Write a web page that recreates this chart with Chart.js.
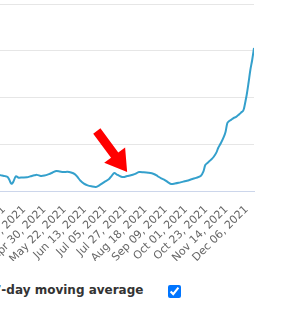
<!DOCTYPE html>
<html>
<head>
<meta charset="utf-8">
<script src="https://cdn.jsdelivr.net/npm/chart.js@4.4.1/dist/chart.umd.min.js"></script>
<style>
  body { margin: 0; width: 288px; height: 315px; overflow: hidden; background: #fff; position: relative; }
  #wrap { position: absolute; left: 0; top: 0; }
  #legendText { position: absolute; left: -7px; top: 282px; font: bold 12px "DejaVu Sans", sans-serif; color: #333; line-height: 16px; white-space: nowrap; }
  #legendBox { position: absolute; left: 168px; top: 285px; width: 13px; height: 13px; margin: 0; }
</style>
</head>
<body>
<div id="wrap"><canvas id="grafica" width="325" height="257"></canvas></div>
<span id="legendText">7-day moving average</span>
<input id="legendBox" type="checkbox" checked>
<script>
// daily new cases, 7-day moving average
const dates = [
  '2021-03-08', '2021-03-12', '2021-03-15', '2021-03-18', '2021-03-21', '2021-03-23', '2021-03-25', '2021-03-27',
  '2021-03-30', '2021-04-02', '2021-04-06', '2021-04-11', '2021-04-15', '2021-04-19', '2021-04-22', '2021-04-26',
  '2021-04-30', '2021-05-05', '2021-05-09', '2021-05-13', '2021-05-17', '2021-05-21', '2021-05-25', '2021-05-29',
  '2021-06-02', '2021-06-05', '2021-06-08', '2021-06-12', '2021-06-16', '2021-06-20', '2021-06-25', '2021-06-29',
  '2021-07-04', '2021-07-09', '2021-07-12', '2021-07-15', '2021-07-18', '2021-07-22', '2021-07-25', '2021-07-29',
  '2021-08-02', '2021-08-06', '2021-08-11', '2021-08-16', '2021-08-21', '2021-08-27', '2021-08-31', '2021-09-04',
  '2021-09-08', '2021-09-12', '2021-09-15', '2021-09-19', '2021-09-23', '2021-09-28', '2021-10-02', '2021-10-08',
  '2021-10-12', '2021-10-17', '2021-10-20', '2021-10-22', '2021-10-25', '2021-10-28', '2021-10-31', '2021-11-03',
  '2021-11-05', '2021-11-08', '2021-11-11', '2021-11-13', '2021-11-15', '2021-11-17', '2021-11-19', '2021-11-22',
  '2021-11-24', '2021-11-26', '2021-11-28', '2021-11-30', '2021-12-02', '2021-12-03', '2021-12-04', '2021-12-06',
  '2021-12-08', '2021-12-10', '2021-12-12', '2021-12-14'
]
const promedio = [
  330, 342, 330, 318, 300, 235, 155, 190,
  315, 285, 290, 295, 315, 335, 345, 322,
  330, 362, 395, 428, 415, 405, 410, 395,
  362, 300, 225, 158, 120, 100, 86, 125,
  190, 250, 320, 385, 350, 310, 298, 320,
  335, 360, 405, 400, 390, 365, 320, 270,
  235, 180, 150, 160, 175, 200, 218, 257,
  280, 320, 420, 556, 610, 665, 727, 820,
  920, 1025, 1150, 1262, 1455, 1497, 1520, 1565,
  1580, 1610, 1640, 1680, 1711, 1760, 1850, 2053,
  2310, 2588, 2802, 3059
]
const tickLabels = [
  'Mar 17, 2021', 'Apr 08, 2021', 'Apr 30, 2021', 'May 22, 2021', 'Jun 13, 2021', 'Jul 05, 2021',
  'Jul 27, 2021', 'Aug 18, 2021', 'Sep 09, 2021', 'Oct 01, 2021', 'Oct 23, 2021', 'Nov 14, 2021', 'Dec 06, 2021'
]
const yTicks = [0, 1000, 2000, 3000, 4000]

// red arrow pointing at the July bump
const arrowTail = { date: '2021-06-26', value: 1283 }
const arrowTip = { date: '2021-07-29', value: 406 }

const inicio = new Date('Jan 01, 2021')
const dayOf = (s) => {
  let d = s.indexOf('-') > 0 ? new Date(s + 'T00:00:00') : new Date(s)
  return Math.round((d - inicio) / 864e5)
}

const puntos = dates.map((d, i) => ({ x: dayOf(d), y: promedio[i] }))
const tickDays = tickLabels.map(dayOf)

const flecha = {
  id: 'flecha',
  afterDatasetsDraw(chart) {
    const { ctx, scales } = chart
    let x0 = scales.x.getPixelForValue(dayOf(arrowTail.date))
    let y0 = scales.y.getPixelForValue(arrowTail.value)
    let x1 = scales.x.getPixelForValue(dayOf(arrowTip.date))
    let y1 = scales.y.getPixelForValue(arrowTip.value)
    let ang = Math.atan2(y1 - y0, x1 - x0)
    let len = Math.hypot(x1 - x0, y1 - y0)
    let head = 21, hw = 13, sw = 4.5
    ctx.save()
    ctx.translate(x0, y0)
    ctx.rotate(ang)
    ctx.fillStyle = '#ff0000'
    ctx.beginPath()
    ctx.moveTo(0, -sw)
    ctx.lineTo(len - head, -sw)
    ctx.lineTo(len - head, -hw)
    ctx.lineTo(len, 0)
    ctx.lineTo(len - head, hw)
    ctx.lineTo(len - head, sw)
    ctx.lineTo(0, sw)
    ctx.closePath()
    ctx.fill()
    ctx.restore()
  }
}

const ctx = document.getElementById('grafica')

let grafico = new Chart(ctx, {
  type: 'line',
  data: {
    datasets: [{
      label: '7-day moving average',
      data: puntos,
      borderColor: '#34a0cc',
      borderWidth: 2,
      pointRadius: 0,
      tension: 0.3,
      fill: false
    }]
  },
  options: {
    responsive: false,
    animation: false,
    layout: { padding: 0 },
    plugins: { legend: { display: false }, tooltip: { enabled: false } },
    scales: {
      x: {
        type: 'linear',
        min: 0,
        max: puntos[puntos.length - 1].x,
        afterBuildTicks: (scale) => { scale.ticks = tickDays.map(v => ({ value: v })) },
        afterFit: (scale) => { scale.height = 70 },
        grid: { display: false },
        border: { display: true, color: '#ccd6eb', width: 1 },
        ticks: {
          autoSkip: false,
          minRotation: 45,
          maxRotation: 45,
          padding: 4,
          color: '#666666',
          font: { family: 'DejaVu Sans', size: 11 },
          callback: (v) => tickLabels[tickDays.indexOf(v)]
        }
      },
      y: {
        min: yTicks[0],
        max: yTicks[yTicks.length - 1],
        afterBuildTicks: (scale) => { scale.ticks = yTicks.map(v => ({ value: v })) },
        afterFit: (scale) => { scale.width = 0 },
        border: { display: false },
        grid: {
          drawTicks: false,
          color: (c) => c.tick && c.tick.value === 0 ? 'rgba(0,0,0,0)' : '#e6e6e6'
        },
        ticks: { display: false }
      }
    }
  },
  plugins: [flecha]
})

// put the right end of the plot and the top grid line where the picture has them
let area = grafico.chartArea
let wrap = document.getElementById('wrap')
wrap.style.left = (254 - area.right) + 'px'
wrap.style.top = (4 - area.top) + 'px'
</script>
</body>
</html>
